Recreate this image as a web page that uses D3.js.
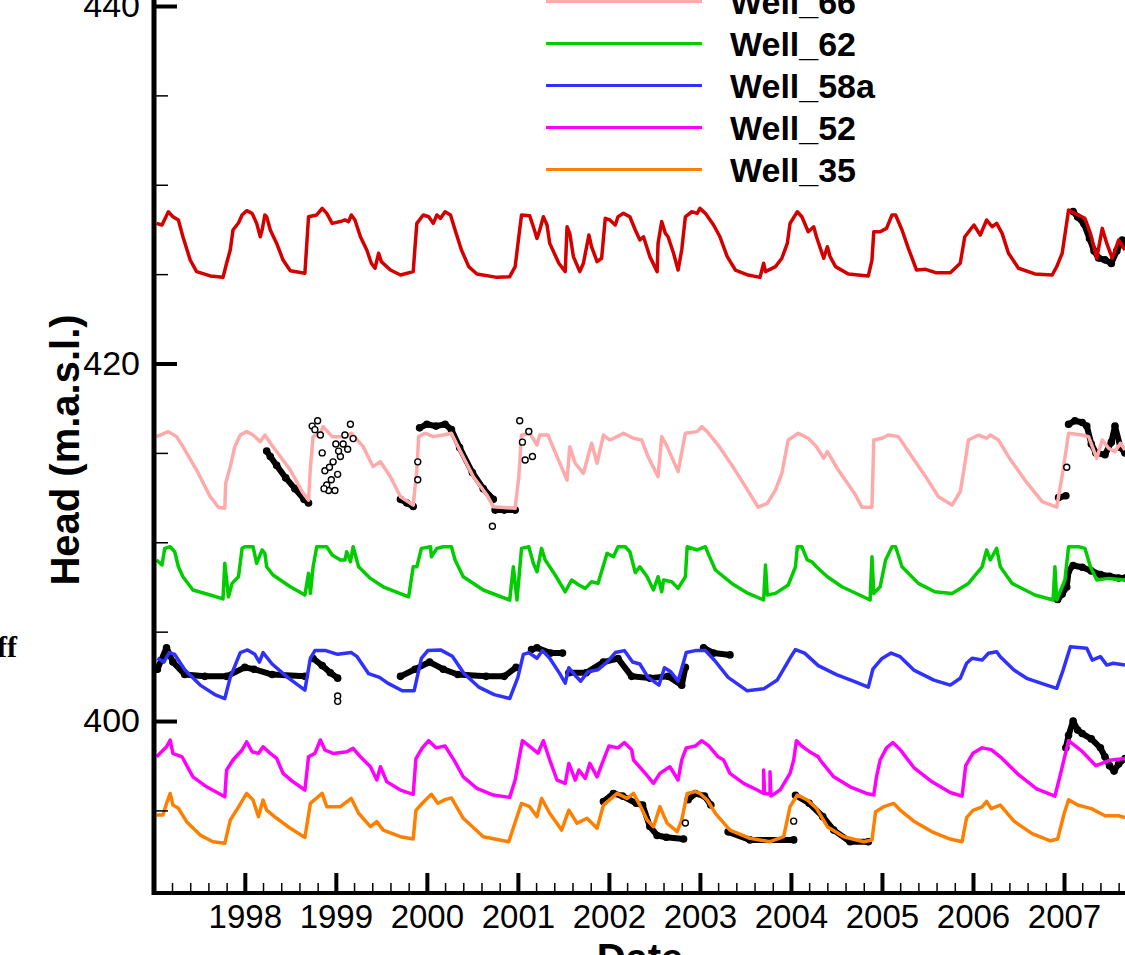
<!DOCTYPE html>
<html><head><meta charset="utf-8">
<script src="https://cdn.jsdelivr.net/npm/d3@7/dist/d3.min.js"></script>
<style>body{margin:0;background:#fff;overflow:hidden}</style>
</head><body>
<svg id="c" width="1125" height="955"></svg>
<script>
// ---------------- data (decimal year, head m.a.s.l.) ----------------
const yearTicks = [1998,1999,2000,2001,2002,2003,2004,2005,2006,2007];
const headTicks = [400,420,440];
const legendNames = ["Well_66","Well_62","Well_58a","Well_52","Well_35"];

const wellTop = [[1997.03,427.84],[1997.09,427.75],[1997.16,428.49],[1997.21,428.21],[1997.27,428.03],[1997.32,427.09],[1997.40,425.79],[1997.47,425.14],[1997.62,424.90],[1997.76,424.82],[1997.80,425.61],[1997.84,426.35],[1997.87,427.47],[1997.93,427.86],[1997.97,428.31],[1998.02,428.55],[1998.08,428.40],[1998.13,427.84],[1998.17,427.09],[1998.19,427.47],[1998.22,428.31],[1998.24,428.21],[1998.28,427.47],[1998.35,426.72],[1998.42,425.79],[1998.50,425.19],[1998.66,425.05],[1998.70,428.21],[1998.79,428.31],[1998.85,428.68],[1998.90,428.40],[1998.96,427.84],[1999.05,427.94],[1999.10,428.03],[1999.14,427.94],[1999.17,428.31],[1999.21,428.03],[1999.27,427.09],[1999.34,426.35],[1999.39,425.61],[1999.43,425.33],[1999.47,426.17],[1999.50,425.70],[1999.60,425.23],[1999.71,424.95],[1999.85,425.14],[1999.87,426.53],[1999.89,427.84],[1999.96,428.31],[2000.02,428.21],[2000.07,427.84],[2000.11,428.31],[2000.15,428.12],[2000.20,428.49],[2000.26,428.31],[2000.31,427.47],[2000.38,426.35],[2000.46,425.42],[2000.55,425.01],[2000.77,424.82],[2000.91,424.86],[2000.97,425.42],[2001.01,427.09],[2001.04,428.31],[2001.13,428.26],[2001.17,427.65],[2001.21,427.00],[2001.24,427.47],[2001.28,428.21],[2001.32,427.75],[2001.35,426.72],[2001.45,425.61],[2001.52,425.14],[2001.54,427.65],[2001.57,427.28],[2001.61,425.98],[2001.68,425.14],[2001.72,425.61],[2001.78,427.19],[2001.81,426.53],[2001.87,425.70],[2001.92,425.89],[2001.96,428.12],[2002.01,428.03],[2002.07,427.75],[2002.10,428.21],[2002.16,428.40],[2002.23,428.21],[2002.29,427.47],[2002.34,426.91],[2002.38,427.09],[2002.45,425.98],[2002.53,425.14],[2002.54,426.72],[2002.58,427.94],[2002.62,427.28],[2002.65,427.09],[2002.71,426.17],[2002.76,425.23],[2002.80,426.35],[2002.84,428.21],[2002.91,428.49],[2002.97,428.40],[2003.00,428.68],[2003.06,428.40],[2003.15,427.75],[2003.22,427.09],[2003.30,425.98],[2003.39,425.23],[2003.53,424.95],[2003.66,424.82],[2003.70,425.61],[2003.72,425.14],[2003.83,425.42],[2003.90,425.89],[2003.96,426.72],[2003.99,427.84],[2004.07,428.49],[2004.12,428.21],[2004.19,427.37],[2004.25,427.65],[2004.28,427.09],[2004.36,425.89],[2004.40,426.53],[2004.43,425.98],[2004.49,425.42],[2004.63,425.01],[2004.85,424.90],[2004.89,425.79],[2004.91,427.37],[2004.98,427.37],[2005.05,427.56],[2005.11,428.31],[2005.15,428.31],[2005.22,427.47],[2005.29,426.44],[2005.38,425.23],[2005.48,425.27],[2005.59,425.08],[2005.75,425.08],[2005.86,425.61],[2005.91,427.09],[2006.01,427.75],[2006.08,427.19],[2006.15,428.03],[2006.21,427.65],[2006.26,427.84],[2006.32,427.28],[2006.39,426.17],[2006.50,425.33],[2006.68,425.01],[2006.87,424.95],[2006.92,425.42],[2006.98,426.17],[2007.05,428.59],[2007.12,428.40],[2007.23,428.12],[2007.29,427.28],[2007.36,425.89],[2007.42,427.56],[2007.47,426.72],[2007.53,425.89],[2007.60,426.91],[2007.67,426.35]];

const well66 = [[1997.03,415.91],[1997.16,416.19],[1997.25,415.91],[1997.32,415.35],[1997.47,414.04],[1997.62,412.55],[1997.71,411.96],[1997.78,411.90],[1997.79,413.30],[1997.84,414.23],[1997.89,415.35],[1997.95,416.00],[1998.02,416.19],[1998.09,416.00],[1998.17,415.63],[1998.22,416.00],[1998.31,415.35],[1998.50,414.04],[1998.63,412.83],[1998.70,412.36],[1998.72,414.14],[1998.75,415.91],[1998.83,416.10],[1998.86,416.47],[1998.96,415.91],[1999.12,415.91],[1999.17,416.10],[1999.30,415.35],[1999.41,414.23],[1999.49,414.51],[1999.60,413.67],[1999.71,412.55],[1999.85,412.08],[1999.89,414.04],[1999.91,415.91],[1999.98,416.10],[2000.07,415.91],[2000.18,416.00],[2000.27,416.10],[2000.36,415.16],[2000.51,413.67],[2000.66,412.64],[2000.73,411.99],[2000.97,411.90],[2001.01,413.67],[2001.04,416.00],[2001.13,416.10],[2001.21,415.44],[2001.24,416.00],[2001.33,416.00],[2001.43,414.79],[2001.54,413.48],[2001.57,415.35],[2001.63,414.42],[2001.72,413.86],[2001.81,415.54],[2001.87,414.42],[2001.94,416.00],[2002.01,415.72],[2002.09,415.91],[2002.16,416.10],[2002.27,415.82],[2002.36,415.72],[2002.43,414.79],[2002.54,413.67],[2002.58,415.91],[2002.64,415.35],[2002.76,413.95],[2002.84,416.10],[2002.97,416.19],[2003.02,416.47],[2003.08,416.19],[2003.20,415.44],[2003.35,414.32],[2003.50,413.11],[2003.64,411.96],[2003.74,412.18],[2003.83,412.92],[2003.90,413.86],[2003.97,415.72],[2004.08,416.10],[2004.19,415.82],[2004.28,415.35],[2004.36,414.70],[2004.40,415.07],[2004.52,414.04],[2004.71,412.64],[2004.78,411.96],[2004.89,411.96],[2004.91,415.72],[2005.00,415.82],[2005.07,416.00],[2005.18,415.91],[2005.33,414.79],[2005.48,413.67],[2005.62,412.55],[2005.77,412.08],[2005.86,412.83],[2005.90,414.04],[2005.95,415.72],[2006.06,416.00],[2006.15,415.82],[2006.19,416.00],[2006.28,415.72],[2006.39,414.79],[2006.57,413.48],[2006.76,412.27],[2006.92,411.96],[2006.99,414.04],[2007.05,416.10],[2007.20,416.00],[2007.27,415.91],[2007.36,414.70],[2007.42,415.72],[2007.49,415.26],[2007.56,415.07],[2007.62,415.54],[2007.67,415.16]];

const well62 = [[1997.03,409.01],[1997.09,408.73],[1997.12,409.66],[1997.18,409.75],[1997.23,409.47],[1997.27,408.63],[1997.32,408.07],[1997.43,407.33],[1997.62,407.05],[1997.76,406.83],[1997.78,408.82],[1997.82,406.95],[1997.86,407.70],[1997.93,408.07],[1997.97,409.66],[1998.00,409.75],[1998.09,409.75],[1998.13,408.82],[1998.19,409.57],[1998.22,409.38],[1998.24,408.63],[1998.31,408.17],[1998.50,407.51],[1998.66,407.05],[1998.70,408.26],[1998.72,407.14],[1998.75,408.63],[1998.79,409.75],[1998.90,409.75],[1998.96,409.29],[1999.05,409.01],[1999.10,409.01],[1999.12,409.47],[1999.16,408.91],[1999.19,409.75],[1999.25,408.63],[1999.38,407.98],[1999.52,407.51],[1999.80,406.95],[1999.85,408.63],[1999.89,408.63],[1999.94,409.66],[2000.04,409.75],[2000.05,409.19],[2000.11,409.66],[2000.18,409.75],[2000.27,409.75],[2000.31,409.01],[2000.40,408.07],[2000.62,407.33],[2000.91,406.77],[2000.95,408.63],[2000.99,406.77],[2001.04,409.66],[2001.12,409.75],[2001.17,408.82],[2001.21,408.35],[2001.26,409.66],[2001.30,409.01],[2001.41,408.17],[2001.52,407.23],[2001.59,407.89],[2001.67,407.61],[2001.74,407.42],[2001.81,407.79],[2001.88,407.70],[2001.98,409.38],[2002.05,409.19],[2002.10,409.75],[2002.18,409.75],[2002.23,409.47],[2002.29,408.30],[2002.34,408.63],[2002.42,408.07],[2002.49,407.33],[2002.54,408.07],[2002.58,407.23],[2002.60,407.89],[2002.69,407.79],[2002.76,407.42],[2002.84,408.07],[2002.86,409.75],[2002.97,409.57],[2003.06,409.75],[2003.09,409.38],[2003.17,408.45],[2003.35,407.70],[2003.53,407.14],[2003.70,406.77],[2003.72,408.73],[2003.74,407.05],[2003.83,407.14],[2003.97,407.61],[2004.05,408.63],[2004.07,409.75],[2004.12,409.75],[2004.18,409.01],[2004.23,408.91],[2004.28,408.63],[2004.40,408.07],[2004.56,407.51],[2004.87,406.77],[2004.89,409.19],[2004.91,407.14],[2004.98,407.51],[2005.04,409.01],[2005.11,409.75],[2005.15,409.75],[2005.22,408.63],[2005.40,407.70],[2005.58,407.23],[2005.77,407.14],[2005.95,407.70],[2006.10,408.63],[2006.15,409.57],[2006.19,409.01],[2006.26,409.66],[2006.30,408.63],[2006.43,407.70],[2006.68,407.05],[2006.88,406.77],[2006.90,408.63],[2006.92,406.77],[2007.01,407.89],[2007.05,409.75],[2007.16,409.75],[2007.23,409.66],[2007.29,408.63],[2007.36,407.89],[2007.49,407.98],[2007.67,407.89]];

const well58a = [[1997.04,403.51],[1997.11,403.30],[1997.17,403.83],[1997.23,403.73],[1997.34,402.87],[1997.51,402.01],[1997.67,401.48],[1997.78,401.26],[1997.84,402.44],[1997.95,403.83],[1998.03,403.98],[1998.11,403.73],[1998.16,403.30],[1998.20,403.83],[1998.30,403.19],[1998.47,402.44],[1998.66,401.73],[1998.72,403.51],[1998.77,403.94],[1998.89,403.94],[1999.02,403.73],[1999.17,403.83],[1999.23,403.62],[1999.36,402.65],[1999.48,402.44],[1999.57,402.12],[1999.73,401.69],[1999.86,401.69],[1999.94,403.51],[2000.01,403.94],[2000.15,403.98],[2000.28,403.62],[2000.41,402.65],[2000.57,401.90],[2000.74,401.48],[2000.91,401.26],[2001.00,402.44],[2001.06,403.73],[2001.12,403.83],[2001.21,403.51],[2001.27,403.94],[2001.35,403.51],[2001.46,402.65],[2001.52,402.12],[2001.56,402.98],[2001.63,402.55],[2001.69,402.23],[2001.77,402.76],[2001.88,402.87],[2001.98,403.30],[2002.07,403.83],[2002.17,403.94],[2002.26,403.30],[2002.34,403.19],[2002.43,402.44],[2002.55,402.01],[2002.61,402.98],[2002.68,402.76],[2002.76,402.23],[2002.85,403.83],[2002.95,403.94],[2003.06,403.94],[2003.16,403.40],[2003.31,402.44],[2003.52,401.69],[2003.70,401.80],[2003.85,402.30],[2004.00,403.60],[2004.05,404.00],[2004.15,403.80],[2004.30,403.10],[2004.50,402.60],[2004.70,402.20],[2004.85,401.90],[2004.90,402.90],[2005.00,403.50],[2005.10,403.80],[2005.20,403.60],[2005.35,402.85],[2005.57,402.29],[2005.75,402.01],[2005.86,402.39],[2005.93,403.23],[2005.99,403.51],[2006.10,403.41],[2006.17,403.79],[2006.26,403.88],[2006.30,403.60],[2006.45,402.85],[2006.59,402.39],[2006.81,402.01],[2006.92,401.83],[2006.99,402.85],[2007.07,404.16],[2007.25,404.07],[2007.31,403.41],[2007.40,403.60],[2007.47,403.13],[2007.54,403.23],[2007.67,403.13]];

const well52 = [[1997.03,398.00],[1997.14,398.56],[1997.18,398.94],[1997.21,398.19],[1997.31,398.00],[1997.43,396.88],[1997.58,396.32],[1997.78,395.76],[1997.80,397.26],[1997.87,397.82],[1997.97,398.38],[1998.02,398.84],[1998.08,398.28],[1998.15,398.19],[1998.20,398.56],[1998.28,398.19],[1998.35,397.91],[1998.42,397.07],[1998.53,396.60],[1998.66,396.14],[1998.70,398.00],[1998.77,398.19],[1998.83,398.94],[1998.88,398.38],[1998.97,398.19],[1999.12,398.28],[1999.19,398.47],[1999.27,398.00],[1999.38,397.44],[1999.45,396.70],[1999.49,397.44],[1999.56,396.60],[1999.71,396.14],[1999.85,395.90],[1999.88,397.90],[1999.95,398.50],[2000.02,398.90],[2000.10,398.50],[2000.20,398.60],[2000.30,397.80],[2000.40,396.88],[2000.55,396.23],[2000.73,395.86],[2000.91,395.73],[2000.97,396.70],[2001.01,397.82],[2001.05,398.90],[2001.15,398.50],[2001.22,398.20],[2001.28,398.90],[2001.35,397.82],[2001.43,396.70],[2001.52,396.51],[2001.56,397.63],[2001.63,396.70],[2001.67,397.26],[2001.74,396.79],[2001.79,397.63],[2001.87,396.88],[2001.94,397.82],[2002.00,398.60],[2002.10,398.50],[2002.17,398.80],[2002.25,398.40],[2002.27,397.82],[2002.40,397.07],[2002.49,396.51],[2002.56,397.07],[2002.67,397.44],[2002.76,396.70],[2002.80,397.82],[2002.85,398.50],[2002.95,398.60],[2003.02,398.90],[2003.10,398.60],[2003.20,398.00],[2003.26,397.82],[2003.33,397.07],[2003.48,396.51],[2003.63,396.14],[2003.70,395.95],[2003.70,397.26],[2003.71,395.95],[2003.77,395.90],[2003.77,397.16],[2003.78,395.80],[2003.88,396.14],[2003.99,397.07],[2004.03,397.82],[2004.06,398.90],[2004.12,398.60],[2004.20,398.30],[2004.30,398.00],[2004.32,397.82],[2004.47,396.88],[2004.65,396.32],[2004.83,395.95],[2004.91,395.86],[2004.94,396.88],[2004.98,397.82],[2005.05,398.50],[2005.12,398.80],[2005.20,398.40],[2005.35,397.40],[2005.55,396.60],[2005.75,396.00],[2005.88,395.80],[2005.92,397.50],[2006.00,398.20],[2006.10,398.50],[2006.20,398.40],[2006.30,398.00],[2006.50,397.00],[2006.70,396.20],[2006.90,395.80],[2006.95,396.80],[2007.05,398.90],[2007.20,398.30],[2007.35,397.50],[2007.50,397.80],[2007.67,397.90]];

const well35 = [[1997.03,394.74],[1997.10,394.74],[1997.14,395.39],[1997.18,395.95],[1997.21,395.30],[1997.27,395.12],[1997.36,394.37],[1997.51,393.62],[1997.65,393.25],[1997.78,393.16],[1997.84,394.46],[1997.91,395.02],[1998.02,395.95],[1998.09,395.58],[1998.15,394.65],[1998.20,395.58],[1998.24,395.02],[1998.35,394.56],[1998.50,394.00],[1998.66,393.49],[1998.72,395.39],[1998.85,395.95],[1998.90,395.21],[1999.05,395.21],[1999.17,395.67],[1999.25,394.84],[1999.38,394.09],[1999.45,394.37],[1999.52,393.90],[1999.71,393.53],[1999.85,393.40],[1999.88,395.00],[1999.95,395.40],[2000.05,395.90],[2000.12,395.40],[2000.20,395.60],[2000.27,395.70],[2000.40,394.56],[2000.62,393.53],[2000.90,393.25],[2000.99,394.65],[2001.04,395.39],[2001.13,395.21],[2001.21,394.65],[2001.26,395.67],[2001.35,394.84],[2001.48,393.90],[2001.56,395.02],[2001.65,394.28],[2001.76,394.56],[2001.87,394.00],[2001.94,395.30],[2002.09,395.95],[2002.20,395.67],[2002.27,395.95],[2002.34,395.30],[2002.42,394.46],[2002.49,394.09],[2002.56,395.21],[2002.64,394.28],[2002.75,393.81],[2002.80,394.46],[2002.86,395.95],[2002.95,396.05],[2003.00,395.95],[2003.08,395.58],[2003.17,394.84],[2003.33,393.90],[2003.55,393.44],[2003.77,393.25],[2003.92,393.53],[2003.99,395.21],[2004.07,395.86],[2004.18,395.58],[2004.28,395.12],[2004.40,394.09],[2004.58,393.53],[2004.80,393.25],[2004.89,393.34],[2004.93,394.93],[2005.02,395.21],[2005.13,395.39],[2005.20,395.02],[2005.35,394.40],[2005.55,393.80],[2005.75,393.40],[2005.88,393.25],[2005.93,394.60],[2006.00,395.00],[2006.10,395.20],[2006.15,395.50],[2006.20,395.10],[2006.30,395.30],[2006.45,394.40],[2006.65,393.70],[2006.85,393.30],[2006.93,393.40],[2007.00,394.80],[2007.05,395.60],[2007.15,395.30],[2007.30,395.10],[2007.45,394.70],[2007.60,394.70],[2007.67,394.60]];

// observed heads: continuous runs (dense markers) and isolated readings
const obsRuns = [
  [[2007.10,428.5],[2007.15,428.2],[2007.22,427.8],[2007.28,427.0],[2007.33,426.3],[2007.38,425.9],[2007.45,425.8],[2007.52,425.6],[2007.58,426.3],[2007.64,426.9],[2007.67,426.7]],
  [[1998.24,415.1],[1998.28,414.8],[1998.35,414.3],[1998.45,413.6],[1998.55,413.0],[1998.65,412.4],[1998.70,412.2]],
  [[1999.71,412.4],[1999.78,412.2],[1999.85,412.0]],
  [[1999.92,416.4],[2000.00,416.6],[2000.10,416.5],[2000.20,416.6],[2000.27,416.3],[2000.36,415.3],[2000.50,413.9],[2000.62,413.0],[2000.73,412.4]],
  [[2000.75,411.8],[2000.85,411.8],[2000.97,411.8]],
  [[2006.94,412.5],[2007.02,412.6]],
  [[2007.05,416.6],[2007.12,416.8],[2007.20,416.7],[2007.25,416.5],[2007.30,415.5],[2007.35,415.0],[2007.45,414.9],[2007.52,415.6],[2007.56,416.5],[2007.62,415.3],[2007.67,415.0]],
  [[2006.93,406.8],[2006.98,407.1],[2007.03,407.5],[2007.05,408.4],[2007.10,408.7],[2007.20,408.6],[2007.30,408.4],[2007.40,408.2],[2007.50,408.1],[2007.60,408.0],[2007.67,408.0]],
  [[1997.04,402.9],[1997.14,404.1],[1997.21,403.3],[1997.34,402.6],[1997.56,402.5],[1997.80,402.5],[1998.00,403.0],[1998.10,402.9],[1998.30,402.6],[1998.66,402.5]],
  [[1998.75,403.5],[1998.85,403.1],[1998.94,402.7],[1999.02,402.4]],
  [[1999.71,402.5],[1999.87,402.9],[2000.03,403.3],[2000.18,402.9],[2000.34,402.6],[2000.65,402.5],[2000.85,402.5],[2000.98,403.0]],
  [[2001.15,404.0],[2001.21,404.1],[2001.36,403.8],[2001.49,403.8]],
  [[2001.56,402.7],[2001.75,402.7],[2001.94,403.3],[2002.10,403.5],[2002.25,402.5],[2002.45,402.4],[2002.65,402.5],[2002.80,402.0],[2002.84,403.0]],
  [[2003.04,404.1],[2003.15,403.8],[2003.33,403.7]],
  [[2007.02,398.5],[2007.05,399.2],[2007.10,400.0],[2007.15,399.5],[2007.20,399.3],[2007.30,399.0],[2007.40,398.5],[2007.45,398.0],[2007.50,397.5],[2007.55,397.2],[2007.60,397.6],[2007.67,397.9]],
  [[2001.94,395.5],[2002.05,395.95],[2002.15,395.8],[2002.30,395.4],[2002.37,395.3],[2002.45,394.1],[2002.53,393.6],[2002.63,393.5],[2002.82,393.4]],
  [[2002.87,395.6],[2002.95,395.95],[2003.05,395.8],[2003.12,395.3]],
  [[2003.31,393.8],[2003.55,393.35],[2004.03,393.35]],
  [[2004.05,395.85],[2004.20,395.4],[2004.35,394.65],[2004.47,393.9],[2004.65,393.25],[2004.85,393.25]]
];
const obsScatter = [[1998.74,416.5],[1998.77,416.3],[1998.80,416.8],[1998.83,416.0],[1998.85,415.0],[1998.88,414.0],[1998.90,413.2],[1998.92,412.9],[1998.95,413.5],[1998.97,414.5],[1999.00,415.5],[1999.02,413.8],[1999.05,414.8],[1999.08,415.5],[1999.10,416.0],[1999.13,415.2],[1999.16,416.6],[1999.19,415.8],[1998.87,413.0],[1998.93,414.2],[1998.99,412.9],[1999.03,415.1],[1999.90,414.5],[1999.90,413.5],[2000.72,410.9],[2001.02,416.8],[2001.05,415.6],[2001.08,414.6],[2001.12,416.2],[2001.16,414.8],[1999.02,401.4],[1999.02,401.1],[2002.84,394.3],[2004.03,394.4],[2007.03,414.2]];

// ---------------- drawing ----------------
const svg = d3.select("#c");
const W = 1125, H = 955;
const x = d3.scaleLinear().domain([1997, 2007.67]).range([153.8, 1125]);
const y = d3.scaleLinear().domain([390.38, 440]).range([893, 6]);

svg.append("defs").append("clipPath").attr("id","plot")
  .append("rect").attr("x",155).attr("y",0).attr("width",W-155).attr("height",893);

const line = d3.line().x(d=>x(d[0])).y(d=>y(d[1]));
const g = svg.append("g").attr("clip-path","url(#plot)");

const series = [
  {data: wellTop, color:"#d40000"},
  {data: well66, color:"#ffaaaa"},
  {data: well62, color:"#00cc00"},
  {data: well58a, color:"#3030ff"},
  {data: well52, color:"#ff00ff"},
  {data: well35, color:"#ff8000"}
];

// observed runs (under the simulated lines)
obsRuns.forEach(run=>{
  g.append("path").datum(run).attr("d",line).attr("fill","none")
   .attr("stroke","#000").attr("stroke-width",6).attr("stroke-linejoin","round").attr("stroke-linecap","round");
  g.append("g").selectAll("circle").data(run).join("circle")
   .attr("cx",d=>x(d[0])).attr("cy",d=>y(d[1])).attr("r",3.2)
   .attr("fill","#000").attr("stroke","#000").attr("stroke-width",1.2);
});
series.forEach(s=>{
  g.append("path").datum(s.data).attr("d",line).attr("fill","none")
   .attr("stroke",s.color).attr("stroke-width",3.5).attr("stroke-linejoin","round");
});
g.selectAll("circle.sc").data(obsScatter).join("circle").attr("class","sc")
  .attr("cx",d=>x(d[0])).attr("cy",d=>y(d[1])).attr("r",3)
  .attr("fill","#fff").attr("stroke","#000").attr("stroke-width",1.4);

// axes
const font = "'Liberation Sans', Arial, sans-serif";
const minorX = d3.range(1997.2, 2007.7, 0.2).filter(v=>Math.abs(v-Math.round(v))>0.05);
const xMinor = d3.axisBottom(x).tickValues(minorX).tickSize(-10).tickFormat("");
const xMajor = d3.axisBottom(x).tickValues(yearTicks).tickSize(-20).tickPadding(12).tickFormat(d3.format("d"));
const ax1 = svg.append("g").attr("transform","translate(0,893)").call(xMinor);
ax1.selectAll(".tick line").attr("stroke","#000").attr("stroke-width",1.5);
const ax2 = svg.append("g").attr("transform","translate(0,893)").call(xMajor);
ax2.selectAll(".tick line").attr("stroke","#000").attr("stroke-width",4);
ax2.selectAll("text").attr("font-family",font).attr("font-size",33).attr("fill","#000");
svg.selectAll(".domain").remove();

const minorY = d3.range(395, 441, 5).filter(v=>v%20!==0);
const yMinor = d3.axisLeft(y).tickValues(minorY).tickSize(-13).tickFormat("");
const yMajor = d3.axisLeft(y).tickValues(headTicks).tickSize(-22).tickPadding(15).tickFormat(d3.format("d"));
const ay1 = svg.append("g").attr("transform","translate(155,0)").call(yMinor);
ay1.selectAll(".tick line").attr("stroke","#000").attr("stroke-width",1.5);
const ay2 = svg.append("g").attr("transform","translate(155,0)").call(yMajor);
ay2.selectAll(".tick line").attr("stroke","#000").attr("stroke-width",4);
ay2.selectAll("text").attr("font-family",font).attr("font-size",34).attr("fill","#000");
svg.selectAll(".domain").remove();

svg.append("line").attr("x1",154).attr("x2",154).attr("y1",0).attr("y2",895).attr("stroke","#000").attr("stroke-width",5);
svg.append("line").attr("x1",152).attr("x2",W).attr("y1",893).attr("y2",893).attr("stroke","#000").attr("stroke-width",4);

// axis titles
svg.append("text").attr("transform","translate(79,450) rotate(-90)").attr("text-anchor","middle")
  .attr("font-family",font).attr("font-weight","bold").attr("font-size",40).text("Head (m.a.s.l.)");
svg.append("text").attr("x",640).attr("y",972).attr("text-anchor","middle")
  .attr("font-family",font).attr("font-weight","bold").attr("font-size",40).text("Date");
svg.append("text").attr("x",17).attr("y",657).attr("text-anchor","end")
  .attr("font-family","'Liberation Serif', serif").attr("font-weight","bold").attr("font-size",30).text("ff");

// legend
const legColors = ["#ffaaaa","#00cc00","#3030ff","#ff00ff","#ff8000"];
const legY = d3.scaleLinear().domain([0,1]).range([1.5, 43.5]);
legendNames.forEach((n,i)=>{
  svg.append("line").attr("x1",546).attr("x2",702).attr("y1",legY(i)).attr("y2",legY(i))
    .attr("stroke",legColors[i]).attr("stroke-width",3);
  svg.append("text").attr("x",730).attr("y",legY(i)+12).attr("font-family",font)
    .attr("font-weight","bold").attr("font-size",34).text(n);
});
</script>
</body></html>
